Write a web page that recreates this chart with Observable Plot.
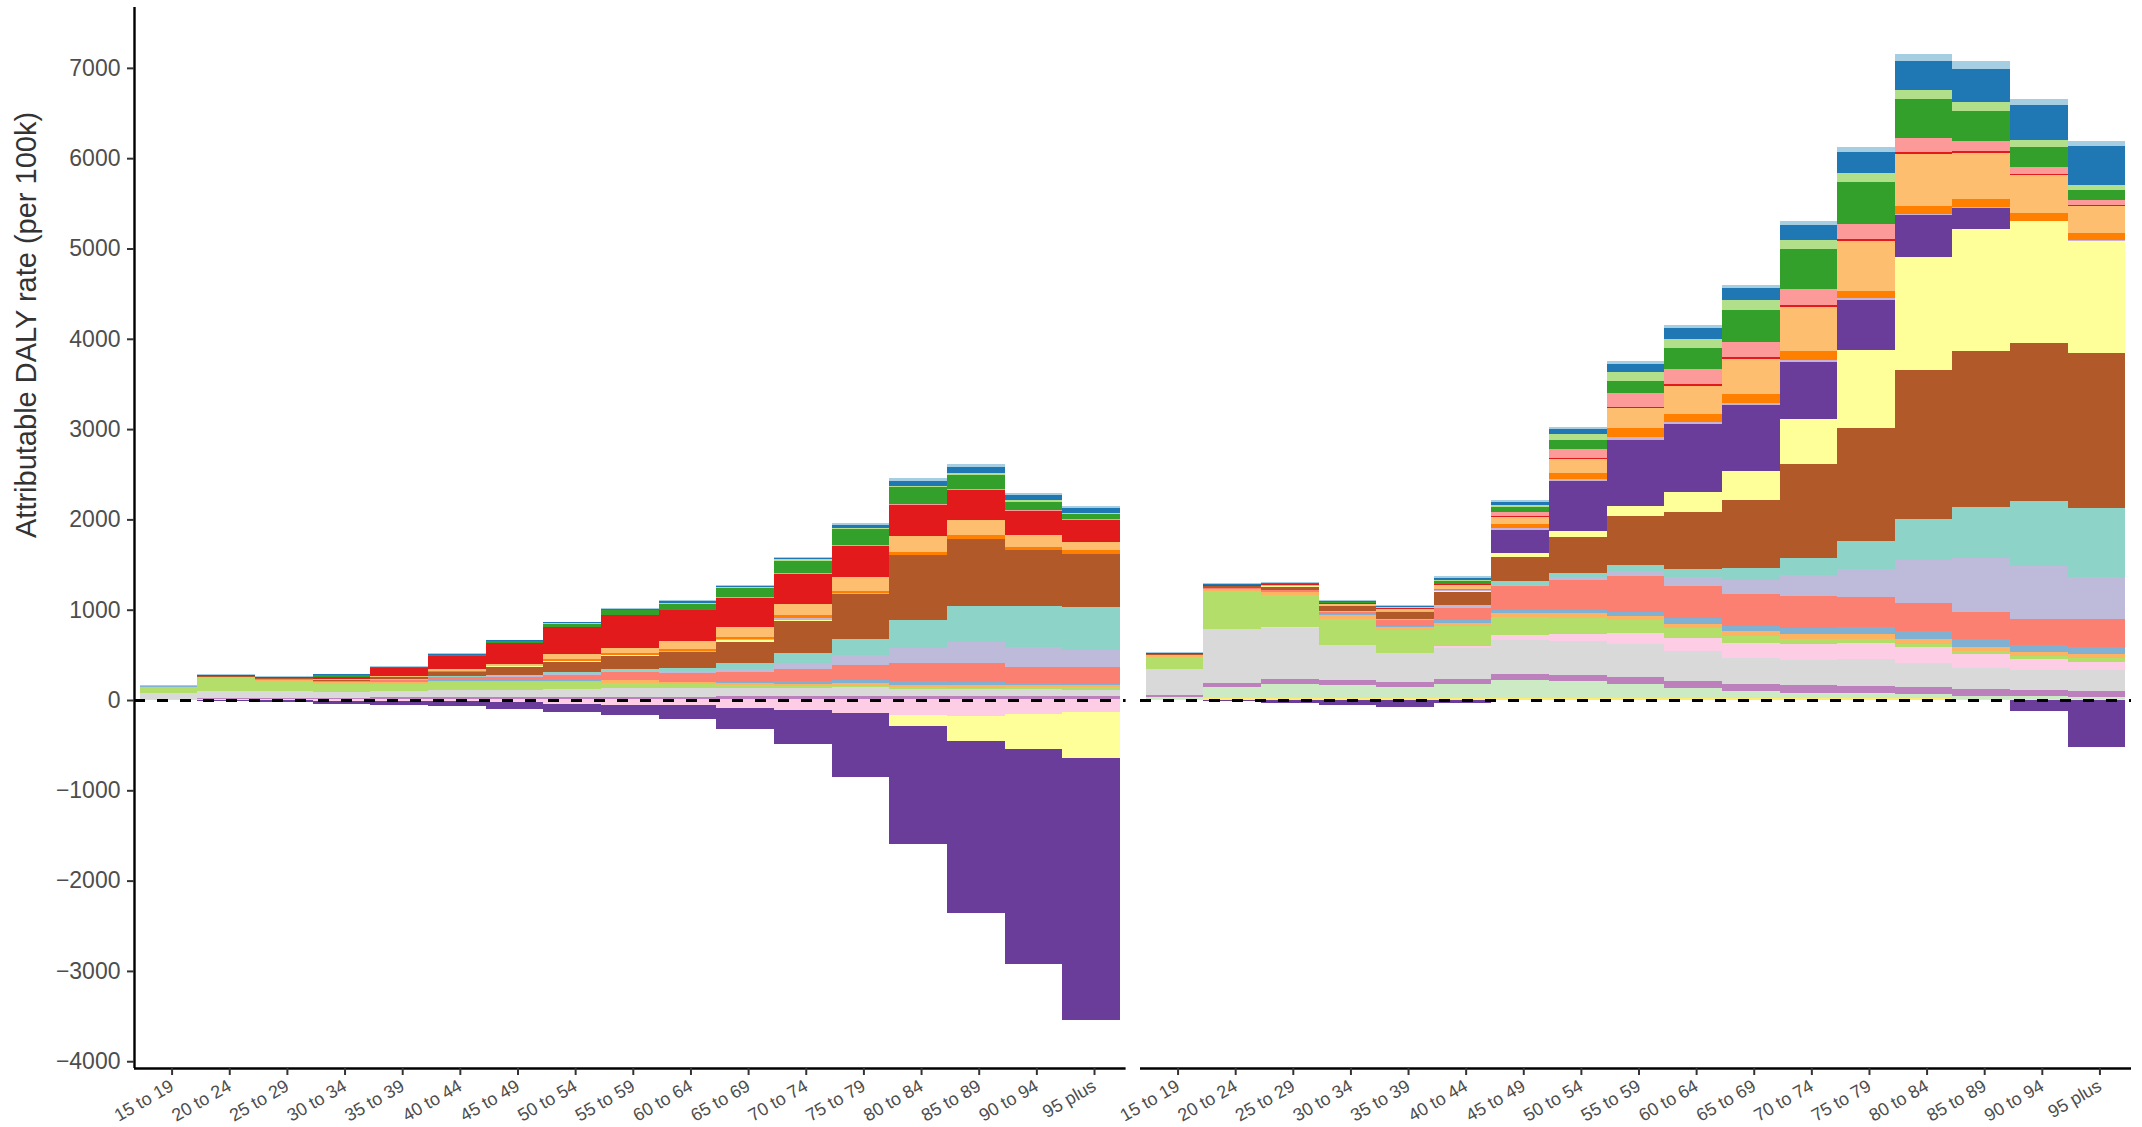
<!DOCTYPE html>
<html><head><meta charset="utf-8">
<script src="https://cdn.jsdelivr.net/npm/d3@7"></script>
<script src="https://cdn.jsdelivr.net/npm/@observablehq/plot@0.6"></script>
<style>
body{margin:0;background:#fff;}
#wrap{display:flex;width:2142px;height:1127px;overflow:hidden;}
svg{overflow:visible;}
</style></head><body><div id="wrap"></div>
<script>
const ages = ["15 to 19","20 to 24","25 to 29","30 to 34","35 to 39","40 to 44","45 to 49","50 to 54","55 to 59","60 to 64","65 to 69","70 to 74","75 to 79","80 to 84","85 to 89","90 to 94","95 plus"];

// stacking order from the zero line outward
const keys = ["gold","mint","orchid","grey","rose","lime","tan","steel","salmon","lavender","teal","brown","yellow","purple","lilac","orange","peach","red","pink","green","leaf","blue","sky"];
const colors = ["#ffed6f","#ccebc5","#bc80bd","#d9d9d9","#fccde5","#b3de69","#fdb462","#80b1d3","#fb8072","#bebada","#8dd3c7","#b15928","#ffff99","#6a3d9a","#cab2d6","#ff7f00","#fdbf6f","#e31a1c","#fb9a99","#33a02c","#b2df8a","#1f78b4","#a6cee3"];

// left panel
const L_gold     = [3,3,3,3,3,3,3,3,3,3,3,3,3,3,3,3,3];
const L_mint     = [5,5,5,8,8,8,8,5,5,5,5,5,5,5,5,5,5];
const L_orchid   = [8,12,15,15,18,20,25,30,30,30,32,32,32,32,32,32,32];
const L_grey     = [60,85,75,60,70,80,70,85,95,97,92,92,100,85,77,81,66];
const L_rose     = [0,-3,-5,-8,-12,-15,-25,-44,-55,-55,-89,-111,-144,-166,-177,-155,-133];
const L_lime     = [65,140,112,95,75,90,95,74,55,44,30,22,15,15,15,26,33];
const L_tan      = [6,10,15,18,20,10,12,8,30,15,22,22,37,30,30,15,22];
const L_steel    = [8,0,0,0,8,8,8,11,8,7,15,30,30,37,37,22,18];
const L_salmon   = [4,5,8,12,25,35,38,66,85,100,107,133,162,199,207,185,181];
const L_lavender = [0,0,0,0,5,5,10,10,5,15,33,66,111,166,236,218,196];
const L_teal     = [0,0,0,0,5,10,5,22,26,37,66,111,177,310,395,458,469];
const L_brown    = [0,6,12,12,18,45,95,111,148,177,232,358,502,720,742,620,587];
const L_yellow   = [0,0,0,0,0,0,3,7,6,5,22,15,0,-122,-277,-387,-509];
const L_purple   = [-3,-12,-22,-35,-40,-48,-70,-89,-111,-155,-232,-373,-709,-1307,-1900,-2386,-2906];
const L_lilac    = [0,0,0,0,0,0,0,0,4,10,22,18,11,0,0,0,7];
const L_orange   = [0,0,0,0,0,6,10,20,18,15,15,30,18,33,44,33,37];
const L_peach    = [0,0,0,5,10,22,20,55,63,96,107,122,155,177,166,133,89];
const L_red      = [0,6,8,30,85,145,230,300,360,340,332,336,347,347,336,266,244];
const L_pink     = [0,0,0,0,0,0,0,3,4,4,7,10,11,11,7,7,11];
const L_green    = [0,0,0,20,5,15,22,33,48,59,96,129,173,185,159,92,55];
const L_leaf     = [0,0,0,0,0,0,0,7,7,15,11,22,18,18,18,22,15];
const L_blue     = [0,5,6,6,12,8,8,11,10,18,18,15,26,48,66,52,52];
const L_sky      = [6,8,6,5,8,6,6,4,8,11,11,18,22,33,33,26,22];

// right panel
const R_gold     = [8,20,20,20,20,20,20,20,20,20,20,20,20,20,15,15,15];
const R_mint     = [25,125,159,148,125,159,203,185,162,114,81,59,59,48,30,26,18];
const R_orchid   = [20,44,55,55,55,55,66,77,77,77,77,89,77,77,77,66,66];
const R_grey     = [290,598,565,387,321,347,376,376,365,332,288,277,299,266,232,221,232];
const R_rose     = [0,0,7,0,0,18,55,77,122,144,166,177,177,177,155,122,89];
const R_lime     = [135,421,362,288,255,218,199,177,144,111,77,55,44,33,33,33,44];
const R_tan      = [20,25,30,44,33,37,44,55,44,44,55,55,55,55,44,44,44];
const R_steel    = [0,0,0,5,11,33,33,33,44,66,55,66,77,89,89,77,77];
const R_salmon   = [5,12,22,30,70,133,266,332,399,354,354,354,332,310,299,288,310];
const R_lavender = [0,0,0,8,11,22,8,33,55,100,155,232,310,476,598,587,465];
const R_teal     = [0,0,0,0,0,10,44,44,66,89,133,188,310,454,565,720,764];
const R_brown    = [10,18,30,52,74,144,266,398,542,631,753,1041,1251,1649,1727,1749,1716];
const R_yellow   = [0,0,8,4,4,15,44,66,111,221,321,498,864,1251,1351,1351,1240];
const R_purple   = [0,-15,-30,-52,-74,-30,255,555,731,753,731,631,553,465,232,-122,-516];
const R_lilac    = [0,0,0,0,4,11,22,22,33,22,22,22,22,15,11,0,11];
const R_orange   = [0,0,5,5,8,12,44,66,100,89,100,100,77,85,89,89,77];
const R_peach    = [0,0,12,20,20,40,77,155,221,310,387,487,553,576,509,421,299];
const R_red      = [5,5,5,4,4,6,11,8,11,22,22,22,22,22,22,11,11];
const R_pink     = [0,0,0,4,5,6,44,100,155,166,166,177,166,155,111,77,55];
const R_green    = [0,5,8,6,4,33,55,100,133,232,355,443,465,432,332,232,111];
const R_leaf     = [0,0,0,4,4,12,22,66,100,100,111,100,100,100,100,77,55];
const R_blue     = [8,12,12,10,14,22,44,55,89,122,133,166,232,321,365,387,432];
const R_sky      = [8,8,12,8,8,18,22,22,33,33,33,44,55,77,89,66,55];

const yTicks = [-4000,-3000,-2000,-1000,0,1000,2000,3000,4000,5000,6000,7000];
const yTitle = "Attributable DALY rate (per 100k)";

const leftSeries = [L_gold,L_mint,L_orchid,L_grey,L_rose,L_lime,L_tan,L_steel,L_salmon,L_lavender,L_teal,L_brown,L_yellow,L_purple,L_lilac,L_orange,L_peach,L_red,L_pink,L_green,L_leaf,L_blue,L_sky];
const rightSeries = [R_gold,R_mint,R_orchid,R_grey,R_rose,R_lime,R_tan,R_steel,R_salmon,R_lavender,R_teal,R_brown,R_yellow,R_purple,R_lilac,R_orange,R_peach,R_red,R_pink,R_green,R_leaf,R_blue,R_sky];

function rows(series) {
  const out = [];
  keys.forEach((k, j) => series[j].forEach((v, i) => {
    if (v !== 0) out.push({key: k, x1: i + 0.5, x2: i + 1.5, value: v});
  }));
  return out;
}

const yMin = -4075, yMax = 7674;
const font = "'Liberation Sans', Arial, Helvetica, sans-serif";

function panel(data, width, marginLeft, marginRight, showY) {
  const marks = [
    Plot.rectY(data, {x1: "x1", x2: "x2", y: "value", fill: "key", order: keys, shapeRendering: "crispEdges"}),
    Plot.ruleY([0], {stroke: "#000", strokeWidth: 3, strokeDasharray: "11,12"}),
    Plot.ruleY([yMin], {stroke: "#000", strokeWidth: 2.4}),
    Plot.axisX({ticks: d3.range(1, 18), tickFormat: i => ages[i - 1], tickRotate: -30, tickSize: 7, tickPadding: 9,
      dx: 3, fontSize: 18, stroke: "#333", fill: "#4d4d4d", strokeWidth: 2, label: null})
  ];
  if (showY) {
    marks.push(
      Plot.ruleX([0.4], {stroke: "#000", strokeWidth: 2.4}),
      Plot.axisY({ticks: yTicks, tickFormat: d => d < 0 ? "\u2212" + Math.abs(d) : String(d), tickSize: 7, tickPadding: 7,
        fontSize: 23, stroke: "#333", fill: "#4d4d4d", strokeWidth: 2, label: null}),
      Plot.text([yTitle], {frameAnchor: "left", rotate: -90, dx: -108, fontSize: 29, fill: "#333"})
    );
  }
  return Plot.plot({
    width, height: 1127, marginTop: 7, marginBottom: 59, marginLeft, marginRight,
    x: {domain: [0.4, 17.6]},
    y: {domain: [yMin, yMax], axis: showY ? undefined : null},
    color: {domain: keys, range: colors},
    style: {overflow: "visible", fontFamily: font, background: "white"},
    marks
  });
}

const wrap = document.getElementById("wrap");
wrap.appendChild(panel(rows(leftSeries), 1127, 134, 1.4, true));
wrap.appendChild(panel(rows(rightSeries), 1015, 13, 11, false));
</script></body></html>
